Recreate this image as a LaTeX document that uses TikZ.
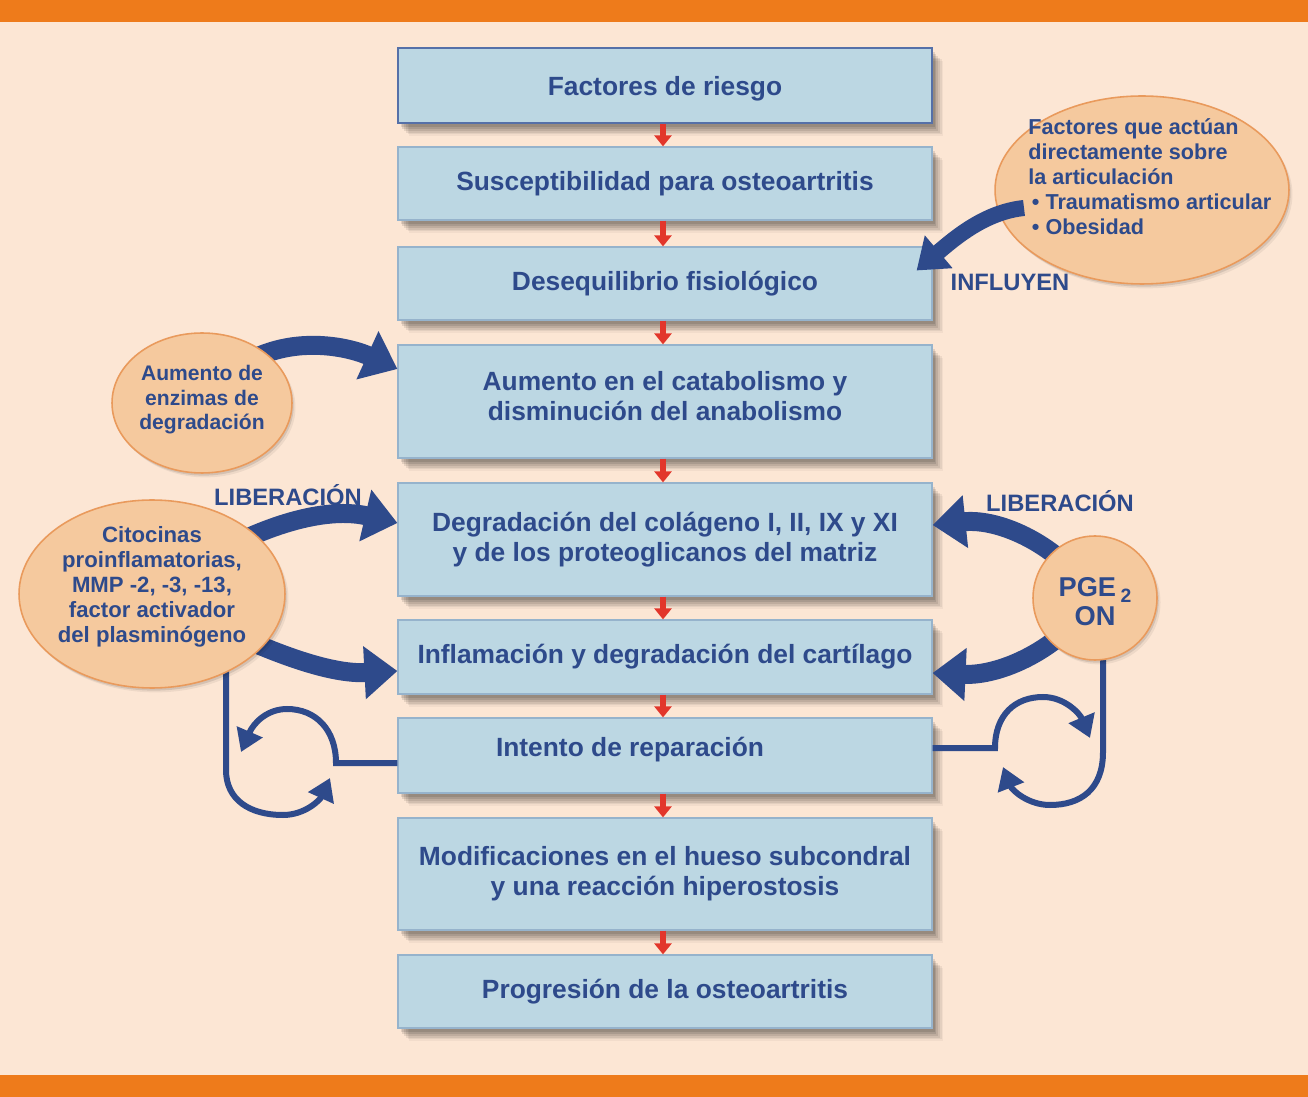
\documentclass[tikz,border=0pt]{standalone}
\usepackage{fontspec}
\setmainfont{Liberation Sans}
\usetikzlibrary{arrows.meta,shapes.geometric,shadows,calc}
\definecolor{bgc}{HTML}{FCE6D4}
\definecolor{barc}{HTML}{EE7B1B}
\definecolor{boxc}{HTML}{BCD7E3}
\definecolor{boxline}{HTML}{96B3CC}
\definecolor{topline}{HTML}{5570A8}
\definecolor{navy}{HTML}{2E4A8B}
\definecolor{ellc}{HTML}{F5C99E}
\definecolor{elline}{HTML}{E99A5C}
\definecolor{redc}{HTML}{E2362B}
\tikzset{
  shd/.style={
    drop shadow={shadow xshift=1.5pt,shadow yshift=-2.5pt,opacity=0.10,fill=black},
    drop shadow={shadow xshift=2.5pt,shadow yshift=-3.5pt,opacity=0.10,fill=black},
    drop shadow={shadow xshift=3.5pt,shadow yshift=-4.5pt,opacity=0.09,fill=black},
    drop shadow={shadow xshift=4.5pt,shadow yshift=-5.5pt,opacity=0.08,fill=black},
    drop shadow={shadow xshift=5.5pt,shadow yshift=-6.5pt,opacity=0.06,fill=black},
    drop shadow={shadow xshift=6.5pt,shadow yshift=-7.5pt,opacity=0.04,fill=black}},
  stepbox/.style={shd,rectangle,draw=boxline,line width=0.7pt,fill=boxc,minimum width=10.68cm,inner sep=0pt,align=center,text=navy,font=\bfseries\fontsize{15}{17}\selectfont},
  btext/.style={text=navy,font=\bfseries\fontsize{15}{17}\selectfont,inner sep=0pt,align=center},
  elli/.style={ellipse,draw=elline,line width=0.9pt,fill=ellc,inner sep=0pt,
    drop shadow={shadow xshift=1pt,shadow yshift=-1.5pt,opacity=0.10,fill=black},
    drop shadow={shadow xshift=2pt,shadow yshift=-2.5pt,opacity=0.06,fill=black}},
  etext/.style={text=navy,inner sep=0pt,align=center},
  lbl/.style={text=navy,inner sep=0pt,font=\bfseries\fontsize{13.5}{15}\selectfont},
  redarr/.style={draw=redc,line width=0.12cm,-{Triangle[width=0.34cm,length=0.22cm]}},
  looparr/.style={draw=navy,line width=0.12cm,-{Triangle[width=0.54cm,length=0.44cm]}},
  bigarr/.style={draw=navy,line width=0.38cm,-{Triangle[width=1.02cm,length=0.66cm]}},
}
\begin{document}
\begin{tikzpicture}[x=0.02cm,y=-0.02cm]
\fill[bgc] (0,0) rectangle (1308,1097);
\fill[barc] (0,0) rectangle (1308,22);
\fill[barc] (0,1075) rectangle (1308,1097);
\useasboundingbox (0,0) rectangle (1308,1097);

% main boxes
\node[stepbox,draw=topline,line width=1.4pt,minimum height=1.5cm,text depth=0pt] (b1) at (665,85.5) {Factores de riesgo};
\node[stepbox,minimum height=1.46cm] (b2) at (665,183.5) {Susceptibilidad para osteoartritis};
\node[stepbox,minimum height=1.46cm] (b3) at (665,283.5) {Desequilibrio fisiológico};
\node[stepbox,minimum height=2.26cm] (b4) at (665,401.5) {};
\node[btext] (t4) at (665,396) {Aumento en el catabolismo y\\disminución del anabolismo};
\node[stepbox,minimum height=2.26cm] (b5) at (665,539.5) {Degradación del colágeno I, II, IX y XI\\y de los proteoglicanos del matriz};
\node[stepbox,minimum height=1.48cm] (b6) at (665,657) {Inflamación y degradación del cartílago};
\node[stepbox,minimum height=1.5cm] (b7) at (665,755.5) {};
\node[btext] (t7) at (630,750) {Intento de reparación};
\node[stepbox,minimum height=2.24cm] (b8) at (665,874) {Modificaciones en el hueso subcondral\\y una reacción hiperostosis};
\node[stepbox,minimum height=1.46cm] (b9) at (665,991.5) {Progresión de la osteoartritis};

% red arrows
\foreach \a/\b in {b1/b2,b2/b3,b3/b4,b4/b5,b5/b6,b6/b7,b7/b8,b8/b9}
  \draw[redarr] (\a.south -| 663,0) -- (\b.north -| 663,0);

% ellipse centres
\coordinate (enzc) at (202,403);
\coordinate (citc) at (152,594);
\coordinate (pgec) at (1095,598);
\coordinate (facc) at (1142,190);

% loop connectors
\draw[looparr] (b7.west |- 0,763) -- (336,763) .. controls (336,730) and (316,709) .. (287,709) .. controls (268,709) and (254,722) .. (241,752);
\draw[looparr] (citc -| 226,0) -- (226,770) .. controls (226,800) and (250,815) .. (283,815) .. controls (305,815) and (320,800) .. (330,778);
\draw[looparr] (b7.east |- 0,748) -- (995,748) .. controls (995,715) and (1015,697) .. (1043,697) .. controls (1065,697) and (1080,714) .. (1090,738);
\draw[looparr] (pgec -| 1103,0) -- (1103,752) .. controls (1103,790) and (1080,805) .. (1050,805) .. controls (1028,805) and (1012,790) .. (1003,767);

% big arrows
\draw[bigarr] (enzc) .. controls (258,325) and (345,345) .. (b4.west |- 0,369);
\draw[bigarr] (citc) .. controls (240,530) and (320,505) .. (b5.west |- 0,523);
\draw[bigarr] (citc) .. controls (240,640) and (320,675) .. (b6.west |- 0,671);
\draw[bigarr] (pgec) .. controls (1060,545) and (1000,518) .. (b5.east |- 0,525);
\draw[bigarr] (pgec) .. controls (1060,650) and (1000,676) .. (b6.east |- 0,673);

% ellipses
\node[elli,minimum width=5.88cm,minimum height=3.76cm] (fac) at (facc) {};
\node[elli,minimum width=3.6cm,minimum height=2.8cm] (enz) at (enzc) {};
\node[elli,minimum width=5.32cm,minimum height=3.76cm] (cit) at (citc) {};
\node[elli,circle,minimum size=2.48cm] (pge) at (pgec) {};

\node[etext,align=left,anchor=west,font=\bfseries\fontsize{12.3}{14.2}\selectfont] (fact) at (1028,177) {Factores que actúan\\directamente sobre\\la articulación\\\,• Traumatismo articular\\\,• Obesidad};
\node[etext,font=\bfseries\fontsize{12}{13.9}\selectfont] (enzt) at (202,400) {Aumento de\\enzimas de\\degradación};
\node[etext,font=\bfseries\fontsize{12.6}{14.2}\selectfont] (citt) at (152,587) {Citocinas\\proinflamatorias,\\MMP -2, -3, -13,\\factor activador\\del plasminógeno};
\node[etext,font=\bfseries\fontsize{15.5}{16.5}\selectfont] (pget) at (1095,602) {PGE\,{\fontsize{11}{11}\selectfont\raisebox{-3pt}{2}}\\ON};

% influence arrow (over ellipse)
\draw[bigarr,line width=0.32cm,-{Triangle[width=0.82cm,length=0.58cm]}] ($(fac.center)+(-118,18)$) .. controls (985,212) and (955,238) .. ($(b3.east)+(-16,-13)$);

% labels
\node[lbl] (infl) at (1010,282) {INFLUYEN};
\node[lbl] (libl) at (288,495) {LIBERACIÓN};
\node[lbl] (libr) at (1060,501) {LIBERACIÓN};
\end{tikzpicture}
\end{document}
